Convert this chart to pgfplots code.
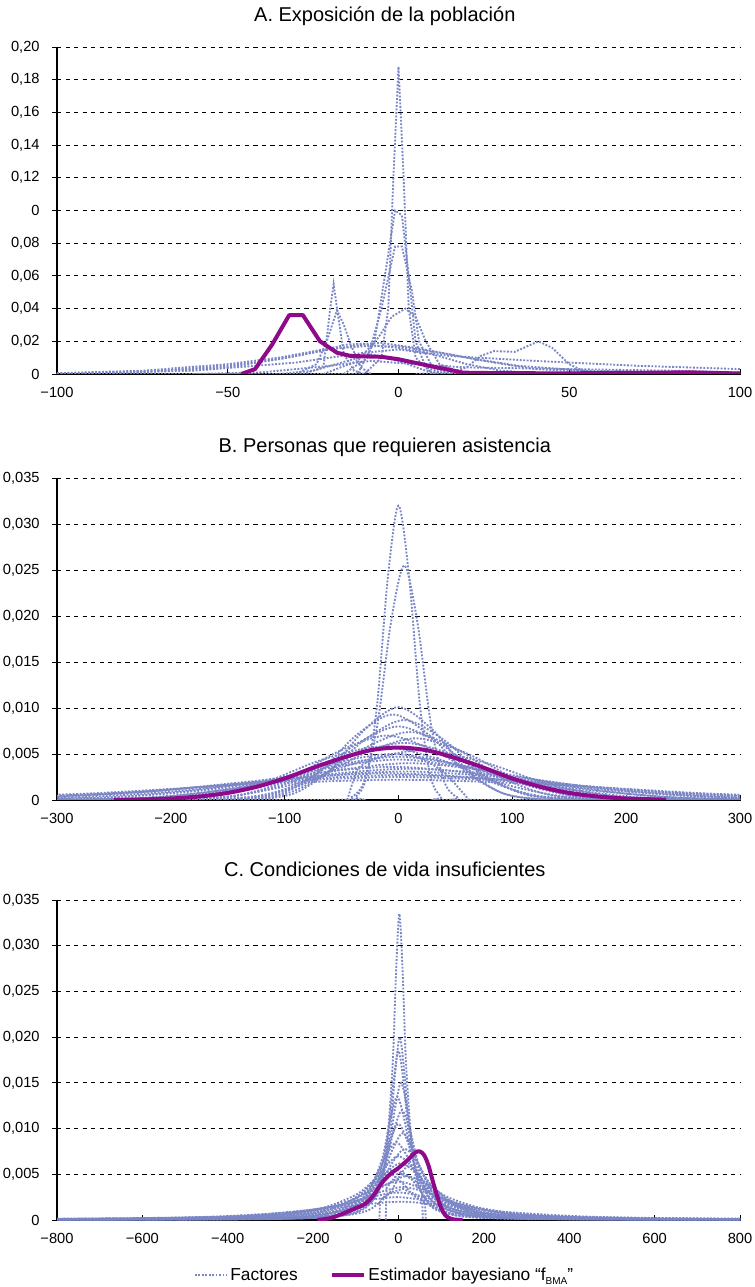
\documentclass[border=0pt]{standalone}
\usepackage{fontspec}
\setmainfont{Liberation Sans}
\usepackage{pgfplots}
\pgfplotsset{compat=1.18}
\definecolor{facblue}{RGB}{122,134,198}
\definecolor{bmapurple}{RGB}{142,10,138}
\pgfplotsset{
  panel/.style={scale only axis, width=512.25pt,
    axis x line=bottom, axis y line=left,
    axis line style={-, black, line width=1.1pt},
    ymajorgrids, major grid style={black, line width=0.6pt, dash pattern=on 3.2pt off 3.2pt},
    tick align=outside, major tick length=3.5pt,
    ytick style={black, line width=0.6pt},
    xtick style={black, line width=0.6pt, yshift=3.5pt},
    scaled y ticks=false, scaled x ticks=false,
    tick label style={font=\fontsize{11}{13}\selectfont},
    yticklabel style={xshift=-6pt},
    xticklabel style={yshift=-3pt},
    title style={at={(0.48,1)}, anchor=center, yshift=17pt, font=\fontsize{15}{18}\selectfont},
    clip=true},
  fac/.style={color=facblue, line width=1.4pt, dash pattern=on 1.4pt off 1.2pt, forget plot},
  bmaline/.style={color=bmapurple, line width=3pt, line join=round, forget plot},
  bty/.style={ytick={0,0.005,0.01,0.015,0.02,0.025,0.03,0.035},
    yticklabels={0,{0,005},{0,010},{0,015},{0,020},{0,025},{0,030},{0,035}}},
}
\begin{document}
\begin{tikzpicture}
\useasboundingbox (-42.75pt,-50.25pt) rectangle (522.75pt,915pt);

% ---------- A ----------
\begin{axis}[panel, at={(0,634.5pt)}, height=245.25pt,
  xmin=-100, xmax=100, ymin=0, ymax=0.2,
  xtick={-100,-50,0,50,100}, xticklabels={−100,−50,0,50,100},
  ytick={0,0.02,0.04,0.06,0.08,0.1,0.12,0.14,0.16,0.18,0.2},
  yticklabels={0,{0,02},{0,04},{0,06},{0,08},0,{0,12},{0,14},{0,16},{0,18},{0,20}},
  title={A. Exposición de la población}]
\addplot[fac] coordinates {(-100,0)(-10,0)(-5,0.01)(-3,0.04)(-1.5,0.12)(0,0.188)(1.5,0.12)(3,0.04)(5,0.01)(10,0)(100,0)};
\addplot[fac] coordinates {(-100,0)(-12,0)(-7,0.02)(-4,0.06)(-1,0.10)(1,0.097)(3,0.06)(5,0.02)(8,0.004)(14,0)(100,0)};
\addplot[fac] coordinates {(-16,0)(-9,0.01)(-5,0.04)(-1,0.078)(1,0.078)(4,0.05)(6,0.02)(10,0.004)(16,0)};
\addplot[fac] coordinates {(-22,0)(-12,0.008)(-6,0.022)(-2,0.035)(2,0.04)(5,0.035)(8,0.02)(12,0.006)(20,0)};
\addplot[fac] coordinates {(-28,0)(-22,0.004)(-20,0.04)(-19,0.055)(-18,0.04)(-16,0.012)(-13,0.002)(-10,0)};
\addplot[fac] coordinates {(-30,0)(-24,0.006)(-21,0.02)(-18,0.039)(-16,0.03)(-14,0.018)(-11,0.004)(-8,0)};
\addplot[fac] coordinates {(-100,0)(-75,0.001)(-50,0.005)(-35,0.009)(-20,0.015)(-10,0.018)(0,0.016)(10,0.012)(20,0.006)(30,0.002)(45,0)(100,0)};
\addplot[fac] coordinates {(-100,0.0005)(-75,0.002)(-50,0.006)(-35,0.010)(-22,0.015)(-10,0.017)(0,0.017)(15,0.012)(25,0.008)(40,0.003)(60,0.001)(100,0)};
\addplot[fac] coordinates {(-100,0)(-70,0.002)(-50,0.004)(-30,0.011)(-15,0.018)(-5,0.019)(5,0.016)(20,0.010)(35,0.005)(55,0.002)(100,0)};
\addplot[fac] coordinates {(-100,0)(-60,0.002)(-30,0.007)(-10,0.013)(0,0.015)(15,0.011)(40,0.008)(70,0.005)(100,0.003)};
\addplot[fac] coordinates {(5,0)(15,0.001)(20,0.004)(24,0.011)(28,0.014)(34,0.0135)(41,0.020)(45,0.016)(50,0.006)(54,0.002)(60,0)};
\addplot[fac] coordinates {(-60,0)(-40,0.001)(-20,0.005)(-8,0.008)(5,0.006)(20,0.004)(50,0.003)(80,0.002)(100,0.001)};
\addplot[fac] coordinates {(-35,0)(-25,0.002)(-15,0.008)(-8,0.012)(0,0.008)(8,0.002)(15,0)};
\addplot[bmaline] coordinates {(-46,0)(-42,0.003)(-37,0.018)(-32,0.036)(-28,0.036)(-23,0.02)(-18,0.013)(-14,0.011)(-5,0.0105)(0,0.009)(9,0.005)(19,0.0008)(30,0.0005)(50,0.0004)(70,0.0007)(85,0.001)(100,0.0003)};
\end{axis}

% ---------- B ----------
\begin{axis}[panel, bty, at={(0,315pt)}, height=241.5pt,
  xmin=-300, xmax=300, ymin=0, ymax=0.035,
  xtick={-300,-200,-100,0,100,200,300}, xticklabels={−300,−200,−100,0,100,200,300},
  title={B. Personas que requieren asistencia}]
\addplot[fac, smooth] coordinates {(-300,0)(-50,0.00001)(-37.5,0.000355)(-28.1,0.00255)(-18.75,0.01039)(-9.4,0.02415)(0,0.032)(9.4,0.02415)(18.75,0.01039)(28.1,0.00255)(37.5,0.000355)(50,0.00001)(300,0)};
\addplot[fac, smooth] coordinates {(-300,0)(-57.4,0.000008)(-41.8,0.00028)(-30.1,0.00203)(-18.4,0.00828)(-6.7,0.01925)(5,0.0255)(16.7,0.01925)(28.4,0.00828)(40.1,0.00203)(51.8,0.00028)(67.4,0.000008)(300,0)};
\addplot[fac, smooth] coordinates {(-300,0)(-160,0.000003)(-120,0.000112)(-90,0.000804)(-60,0.00328)(-30,0.00762)(0,0.0101)(30,0.00762)(60,0.00328)(90,0.000804)(120,0.000112)(160,0.000003)(300,0)};
\addplot[fac, smooth] coordinates {(-300,0)(-177,0.0000028)(-134,0.000103)(-101.75,0.00074)(-69.5,0.00302)(-37.25,0.00702)(-5,0.0093)(27.25,0.00702)(59.5,0.00302)(91.75,0.00074)(124,0.000103)(167,0.0000028)(300,0)};
\addplot[fac, smooth] coordinates {(-300,0)(-179,0.0000026)(-133,0.0000966)(-98.5,0.00069)(-64,0.00282)(-29.5,0.00657)(5,0.0087)(39.5,0.00657)(74,0.00282)(108.5,0.00069)(143,0.0000966)(189,0.0000026)(300,0)};
\addplot[fac, smooth] coordinates {(-300,0)(-200,0.0000024)(-150,0.0000888)(-112.5,0.000637)(-75,0.0026)(-37.5,0.00604)(0,0.008)(37.5,0.00604)(75,0.0026)(112.5,0.000637)(150,0.0000888)(200,0.0000024)(300,0)};
\addplot[fac, smooth] coordinates {(-300,0)(-206,0.0000022)(-152,0.0000821)(-111.5,0.000589)(-71,0.0024)(-30.5,0.00559)(10,0.0074)(50.5,0.00559)(91,0.0024)(131.5,0.000589)(172,0.0000821)(226,0.0000022)(300,0)};
\addplot[fac, smooth] coordinates {(-300,0)(-238,0.000002)(-181,0.0000777)(-138.25,0.000557)(-95.5,0.00227)(-52.75,0.00528)(-10,0.007)(32.75,0.00528)(75.5,0.00227)(118.25,0.000557)(161,0.0000777)(218,0.000002)(300,0)};
\addplot[fac, smooth] coordinates {(-300,0)(-225,0.000002)(-165,0.0000744)(-120,0.000533)(-75,0.00218)(-30,0.00506)(15,0.0067)(60,0.00506)(105,0.00218)(150,0.000533)(195,0.0000744)(255,0.000002)(300,0)};
\addplot[fac, smooth] coordinates {(-300,0)(-255,0.0000019)(-190,0.0000688)(-141.25,0.000494)(-92.5,0.00201)(-43.75,0.00468)(5,0.0062)(53.75,0.00468)(102.5,0.00201)(151.25,0.000494)(200,0.0000688)(265,0.0000019)(300,0)};
\addplot[fac, smooth] coordinates {(-300,0)(-291,0.0000017)(-222.25,0.0000644)(-170.5,0.000462)(-118.75,0.00188)(-67,0.00438)(-15,0.0058)(36.75,0.00438)(88.5,0.00188)(140.25,0.000462)(192,0.0000644)(261,0.0000017)(300,0)};
\addplot[fac, smooth] coordinates {(-300,0)(-276,0.0000016)(-202,0.0000599)(-146.5,0.00043)(-91,0.00175)(-35.5,0.00408)(20,0.0054)(75.5,0.00408)(131,0.00175)(186.5,0.00043)(242,0.0000599)(316,0.0000016)};
\addplot[fac, smooth] coordinates {(-340,0.0000014)(-255,0.0000522)(-191.25,0.000374)(-127.5,0.00153)(-63.75,0.00355)(0,0.0047)(63.75,0.00355)(127.5,0.00153)(191.25,0.000374)(255,0.0000522)(340,0.0000014)};
\addplot[fac, smooth] coordinates {(-325,0.0000015)(-245,0.0000555)(-185,0.000398)(-125,0.00162)(-65,0.00377)(-5,0.005)(55,0.00377)(115,0.00162)(175,0.000398)(235,0.0000555)(315,0.0000015)};
\addplot[fac, smooth] coordinates {(-364,0.0000013)(-273,0.0000488)(-204.75,0.00035)(-136.5,0.00143)(-68.25,0.00332)(0,0.0044)(68.25,0.00332)(136.5,0.00143)(204.75,0.00035)(273,0.0000488)(364,0.0000013)};
\addplot[fac, smooth] coordinates {(-390,0.0000012)(-290,0.0000444)(-215,0.000318)(-140,0.0013)(-65,0.00302)(10,0.004)(85,0.00302)(160,0.0013)(235,0.000318)(310,0.0000444)(410,0.0000012)};
\addplot[fac, smooth] coordinates {(-335,0.00004)(-252.5,0.000287)(-170,0.00117)(-87.5,0.00272)(-5,0.0036)(77.5,0.00272)(160,0.00117)(242.5,0.000287)(325,0.00004)};
\addplot[fac, smooth] coordinates {(-344,0.0000377)(-255.5,0.000271)(-167,0.0011)(-78.5,0.00257)(10,0.0034)(98.5,0.00257)(187,0.0011)(275.5,0.000271)(364,0.0000377)};
\addplot[fac, smooth] coordinates {(-385,0.0000344)(-287.5,0.000247)(-190,0.00101)(-92.5,0.00234)(5,0.0031)(102.5,0.00234)(200,0.00101)(297.5,0.000247)(395,0.0000344)};
\addplot[fac, smooth] coordinates {(-424,0.000032)(-320.5,0.000231)(-217,0.00094)(-113.5,0.00219)(-10,0.0029)(93.5,0.00219)(197,0.00094)(300.5,0.000231)(404,0.000032)};
\addplot[fac, smooth] coordinates {(-450,0.00003)(-337.5,0.000215)(-225,0.000877)(-112.5,0.00204)(0,0.0027)(112.5,0.00204)(225,0.000877)(337.5,0.000215)(450,0.00003)};
\addplot[fac, smooth] coordinates {(-480,0.0000277)(-360,0.0002)(-240,0.000812)(-120,0.00189)(0,0.0025)(120,0.00189)(240,0.000812)(360,0.0002)(480,0.0000277)};
\addplot[fac, smooth] coordinates {(-405,0.000175)(-270,0.000714)(-135,0.00166)(0,0.0022)(135,0.00166)(270,0.000714)(405,0.000175)};
\addplot[fac, smooth] coordinates {(-45,0)(-40,0.002)(-35,0.0035)(-20,0.0045)(0,0.005)(20,0.0045)(40,0.003)(55,0.001)(62,0)};
\addplot[bmaline, smooth] coordinates {(-250,0.00001)(-225,0.00006)(-200,0.00016)(-175,0.00038)(-150,0.00077)(-125,0.00142)(-100,0.00234)(-75,0.0035)(-50,0.00455)(-25,0.0054)(0,0.0057)(25,0.0054)(50,0.00455)(75,0.0035)(100,0.00234)(125,0.00142)(150,0.00077)(175,0.00038)(200,0.00016)(235,0.00004)};
\end{axis}

% ---------- C ----------
\begin{axis}[panel, bty, at={(0,0)}, height=240pt,
  xmin=-800, xmax=800, ymin=0, ymax=0.035,
  xtick={-800,-600,-400,-200,0,200,400,600,800},
  xticklabels={−800,−600,−400,−200,0,200,400,600,800},
  title={C. Condiciones de vida insuficientes},
  legend style={at={(0.48,-0.172)}, anchor=center, legend columns=2, draw=none, fill=none,
    font=\fontsize{13}{15}\selectfont, /tikz/every even column/.append style={column sep=22pt}},
  legend image code/.code={\draw[#1] (0pt,0pt) -- (24pt,0pt);}]
\addlegendimage{color=facblue, line width=1.4pt, dash pattern=on 1.4pt off 1.2pt}
\addlegendentry{Factores}
\addlegendimage{color=bmapurple, line width=3pt}
\addlegendentry{Estimador bayesiano “f\raisebox{-0.45ex}{\fontsize{7.5}{8}\selectfont BMA}”}
\addplot[fac, smooth] coordinates {(-318,0.0000838)(-190,0.000231)(-126,0.000516)(-78,0.00129)(-46,0.00335)(-30,0.0067)(-14,0.01675)(-6,0.0268)(2,0.0335)(10,0.0268)(18,0.01675)(34,0.0067)(50,0.00335)(82,0.00129)(130,0.000516)(194,0.000231)(322,0.0000838)};
\addplot[fac, smooth] coordinates {(-437,0.00005)(-261,0.000138)(-173,0.000308)(-107,0.00077)(-63,0.002)(-41,0.004)(-19,0.01)(-8,0.016)(3,0.02)(14,0.016)(25,0.01)(47,0.004)(69,0.002)(113,0.00077)(179,0.000308)(267,0.000138)(443,0.00005)};
\addplot[fac, smooth] coordinates {(-500,0.0000463)(-300,0.000128)(-200,0.000285)(-125,0.000712)(-75,0.00185)(-50,0.0037)(-25,0.00925)(-12.5,0.0148)(0,0.0185)(12.5,0.0148)(25,0.00925)(50,0.0037)(75,0.00185)(125,0.000712)(200,0.000285)(300,0.000128)(500,0.0000463)};
\addplot[fac, smooth] coordinates {(-594,0.0000375)(-354,0.000104)(-234,0.000231)(-144,0.000578)(-84,0.0015)(-54,0.003)(-24,0.0075)(-9,0.012)(6,0.015)(21,0.012)(36,0.0075)(66,0.003)(96,0.0015)(156,0.000578)(246,0.000231)(366,0.000104)(606,0.0000375)};
\addplot[fac, smooth] coordinates {(-703,0.0000338)(-423,0.0000932)(-283,0.000208)(-178,0.00052)(-108,0.00135)(-73,0.0027)(-38,0.00675)(-20.5,0.0108)(-3,0.0135)(14.5,0.0108)(32,0.00675)(67,0.0027)(102,0.00135)(172,0.00052)(277,0.000208)(417,0.0000932)(697,0.0000338)};
\addplot[fac, smooth] coordinates {(-792,0.00003)(-472,0.0000828)(-312,0.000185)(-192,0.000462)(-112,0.0012)(-72,0.0024)(-32,0.006)(-12,0.0096)(8,0.012)(28,0.0096)(48,0.006)(88,0.0024)(128,0.0012)(208,0.000462)(328,0.000185)(488,0.0000828)(808,0.00003)};
\addplot[fac, smooth] coordinates {(-900,0.0000263)(-540,0.0000725)(-360,0.000162)(-225,0.000404)(-135,0.00105)(-90,0.0021)(-45,0.00525)(-22.5,0.0084)(0,0.0105)(22.5,0.0084)(45,0.00525)(90,0.0021)(135,0.00105)(225,0.000404)(360,0.000162)(540,0.0000725)(900,0.0000263)};
\addplot[fac, smooth] coordinates {(-990,0.0000238)(-590,0.0000656)(-390,0.000146)(-240,0.000366)(-140,0.00095)(-90,0.0019)(-40,0.00475)(-15,0.0076)(10,0.0095)(35,0.0076)(60,0.00475)(110,0.0019)(160,0.00095)(260,0.000366)(410,0.000146)(610,0.0000656)(1010,0.0000238)};
\addplot[fac, smooth] coordinates {(-1105,0.0000213)(-665,0.0000587)(-445,0.000131)(-280,0.000327)(-170,0.00085)(-115,0.0017)(-60,0.00425)(-32.5,0.0068)(-5,0.0085)(22.5,0.0068)(50,0.00425)(105,0.0017)(160,0.00085)(270,0.000327)(435,0.000131)(655,0.0000587)(1095,0.0000213)};
\addplot[fac, smooth] coordinates {(-1185,0.0000195)(-705,0.0000538)(-465,0.00012)(-285,0.0003)(-165,0.00078)(-105,0.00156)(-45,0.0039)(-15,0.00624)(15,0.0078)(45,0.00624)(75,0.0039)(135,0.00156)(195,0.00078)(315,0.0003)(495,0.00012)(735,0.0000538)(1215,0.0000195)};
\addplot[fac, smooth] coordinates {(-840,0.0000483)(-560,0.000108)(-350,0.00027)(-210,0.0007)(-140,0.0014)(-70,0.0035)(-35,0.0056)(0,0.007)(35,0.0056)(70,0.0035)(140,0.0014)(210,0.0007)(350,0.00027)(560,0.000108)(840,0.0000483)};
\addplot[fac, smooth] coordinates {(-955,0.0000428)(-635,0.0000955)(-395,0.000239)(-235,0.00062)(-155,0.00124)(-75,0.0031)(-35,0.00496)(5,0.0062)(45,0.00496)(85,0.0031)(165,0.00124)(245,0.00062)(405,0.000239)(645,0.0000955)(965,0.0000428)};
\addplot[fac, smooth] coordinates {(-1090,0.000038)(-730,0.0000847)(-460,0.000212)(-280,0.00055)(-190,0.0011)(-100,0.00275)(-55,0.0044)(-10,0.0055)(35,0.0044)(80,0.00275)(170,0.0011)(260,0.00055)(440,0.000212)(710,0.0000847)(1070,0.000038)};
\addplot[fac, smooth] coordinates {(-1180,0.0000331)(-780,0.0000739)(-480,0.000185)(-280,0.00048)(-180,0.00096)(-80,0.0024)(-30,0.00384)(20,0.0048)(70,0.00384)(120,0.0024)(220,0.00096)(320,0.00048)(520,0.000185)(820,0.0000739)(1220,0.0000331)};
\addplot[fac, smooth] coordinates {(-920,0.0000647)(-575,0.000162)(-345,0.00042)(-230,0.00084)(-115,0.0021)(-57.5,0.00336)(0,0.0042)(57.5,0.00336)(115,0.0021)(230,0.00084)(345,0.00042)(575,0.000162)(920,0.0000647)};
\addplot[fac, smooth] coordinates {(-1030,0.0000554)(-640,0.000139)(-380,0.00036)(-250,0.00072)(-120,0.0018)(-55,0.00288)(10,0.0036)(75,0.00288)(140,0.0018)(270,0.00072)(400,0.00036)(660,0.000139)(1050,0.0000554)};
\addplot[fac, smooth] coordinates {(-1200,0.0000462)(-750,0.000116)(-450,0.0003)(-300,0.0006)(-150,0.0015)(-75,0.0024)(0,0.003)(75,0.0024)(150,0.0015)(300,0.0006)(450,0.0003)(750,0.000116)(1200,0.0000462)};
\addplot[fac, smooth] coordinates {(-880,0.0000963)(-530,0.00025)(-355,0.0005)(-180,0.00125)(-92.5,0.002)(-5,0.0025)(82.5,0.002)(170,0.00125)(345,0.0005)(520,0.00025)(870,0.0000963)};
\addplot[fac, smooth] coordinates {(-1045,0.000077)(-625,0.0002)(-415,0.0004)(-205,0.001)(-100,0.0016)(5,0.002)(110,0.0016)(215,0.001)(425,0.0004)(635,0.0002)(1055,0.000077)};
\addplot[fac, smooth] coordinates {(-515,0.0000414)(-335,0.0000924)(-200,0.000231)(-110,0.0006)(-65,0.0012)(-20,0.003)(2.5,0.0048)(25,0.006)(47.5,0.0048)(70,0.003)(115,0.0012)(160,0.0006)(250,0.000231)(385,0.0000924)(565,0.0000414)};
\addplot[fac, smooth] coordinates {(-740,0.0000345)(-500,0.000077)(-320,0.000193)(-200,0.0005)(-140,0.001)(-80,0.0025)(-50,0.004)(-20,0.005)(10,0.004)(40,0.0025)(100,0.001)(160,0.0005)(280,0.000193)(460,0.000077)(700,0.0000345)};
\addplot[fac] coordinates {(-45,0)(-43,0.0022)(-20,0.003)(10,0.0034)(40,0.0028)(62,0.002)(64,0)};
\addplot[fac] coordinates {(-30,0)(-28,0.0035)(0,0.0052)(30,0.0045)(55,0.003)(57,0)};
\addplot[bmaline, smooth] coordinates {(-190,0)(-160,0.0002)(-130,0.0007)(-100,0.0013)(-80,0.0017)(-60,0.0026)(-40,0.004)(-20,0.005)(0,0.0057)(20,0.0065)(40,0.0074)(50,0.0075)(60,0.0071)(70,0.006)(80,0.0043)(90,0.0027)(100,0.0013)(110,0.0005)(125,0.0001)(150,0)};
\end{axis}
\end{tikzpicture}
\end{document}
